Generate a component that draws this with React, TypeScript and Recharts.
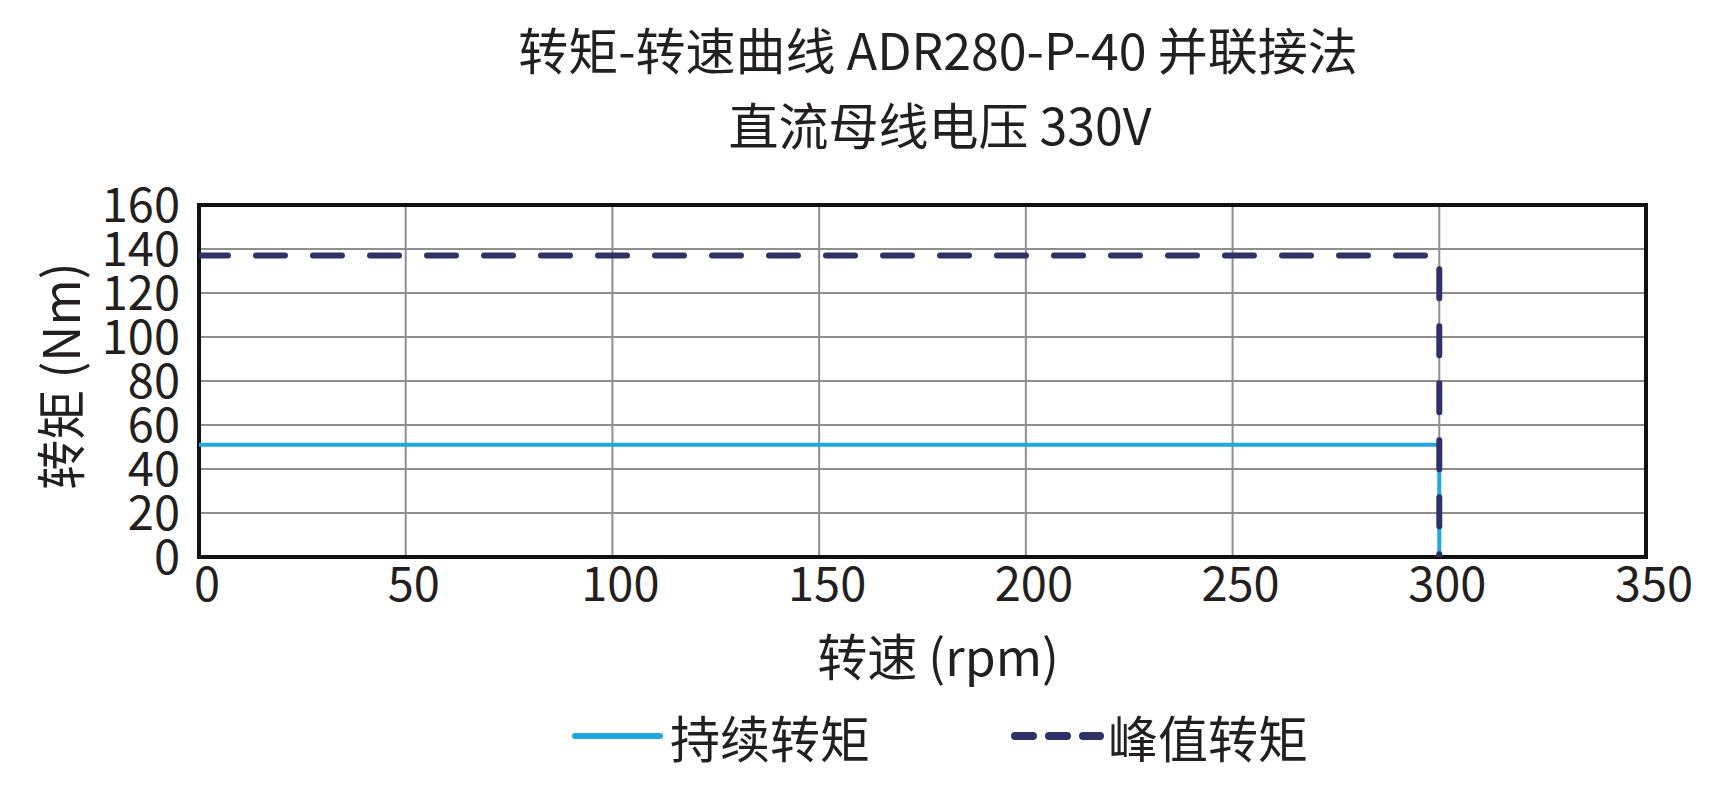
import React from 'react';
import { LineChart, Line, XAxis, YAxis, CartesianGrid, ReferenceArea } from 'recharts';

const speedTicks = [0, 50, 100, 150, 200, 250, 300, 350];
const torqueTicks = [0, 20, 40, 60, 80, 100, 120, 140, 160];

// 持续转矩
const continuousSpeed = [0, 300, 300];
const continuousTorque = [51, 51, 0];
// 峰值转矩
const peakSpeed = [0, 300, 300];
const peakTorque = [137, 137, 0];

const titleLine1 = '转矩-转速曲线 ADR280-P-40 并联接法';
const titleLine2 = '直流母线电压 330V';
const xLabel = '转速 (rpm)';
const yLabel = '转矩 (Nm)';
const legendNames = ['持续转矩', '峰值转矩'];

const continuousData = continuousSpeed.map((s, i) => ({ speed: s, torque: continuousTorque[i] }));
const peakData = peakSpeed.map((s, i) => ({ speed: s, torque: peakTorque[i] }));

const FONT = '"Noto Sans CJK SC", "Noto Sans", sans-serif';
const TEXT = '#231f20';
const BLUE = '#1eaadf';
const NAVY = '#2e3266';

const centered = (x: number, y: number, size: number): React.CSSProperties => ({
  position: 'absolute',
  left: x,
  top: y,
  transform: 'translate(-50%, -50%)',
  fontSize: size,
  lineHeight: 1,
  whiteSpace: 'nowrap',
  color: TEXT,
});

export default function App() {
  return (
    <div style={{ position: 'absolute', left: 0, top: 0, width: 1735, height: 794, background: '#fff', fontFamily: FONT }}>
      <div style={centered(938, 48, 50)}>{titleLine1}</div>
      <div style={centered(940, 123, 50)}>{titleLine2}</div>

      <LineChart width={1735} height={794} margin={{ top: 205, right: 89, bottom: 177, left: 139 }}>
        <CartesianGrid stroke="#8e8e8e" strokeWidth={2} horizontalValues={torqueTicks} verticalValues={speedTicks} />
        <XAxis
          type="number"
          dataKey="speed"
          domain={[0, 350]}
          ticks={speedTicks}
          allowDataOverflow
          axisLine={false}
          tickLine={false}
          tickMargin={5}
          height={60}
          tick={{ fontSize: 47, fill: TEXT, fontFamily: FONT, dx: 8 }}
        />
        <YAxis
          type="number"
          domain={[0, 160]}
          ticks={torqueTicks}
          allowDataOverflow
          axisLine={false}
          tickLine={false}
          tickMargin={13}
          width={60}
          interval={0}
          tick={{ fontSize: 47, fill: TEXT, fontFamily: FONT }}
        />
        <ReferenceArea x1={0} x2={350} y1={0} y2={160} fill="none" fillOpacity={0} stroke="#111" strokeWidth={4} />
        <Line
          data={continuousData}
          dataKey="torque"
          type="linear"
          stroke={BLUE}
          strokeWidth={4}
          dot={false}
          isAnimationActive={false}
        />
        <Line
          data={peakData}
          dataKey="torque"
          type="linear"
          stroke={NAVY}
          strokeWidth={6}
          strokeDasharray="29 28"
          strokeLinecap="round"
          dot={false}
          isAnimationActive={false}
        />
      </LineChart>

      <div style={centered(938, 654, 50)}>{xLabel}</div>
      <div style={{ ...centered(58, 376, 50), transform: 'translate(-50%, -50%) rotate(-90deg)' }}>{yLabel}</div>

      <svg style={{ position: 'absolute', left: 0, top: 0 }} width={1735} height={794}>
        <line x1={575} y1={736} x2={660} y2={736} stroke={BLUE} strokeWidth={6} strokeLinecap="round" />
        <line x1={1015} y1={736} x2={1100} y2={736} stroke={NAVY} strokeWidth={8} strokeLinecap="round" strokeDasharray="18 16" />
      </svg>
      <div style={centered(770, 736, 50)}>{legendNames[0]}</div>
      <div style={centered(1208, 736, 50)}>{legendNames[1]}</div>
    </div>
  );
}
